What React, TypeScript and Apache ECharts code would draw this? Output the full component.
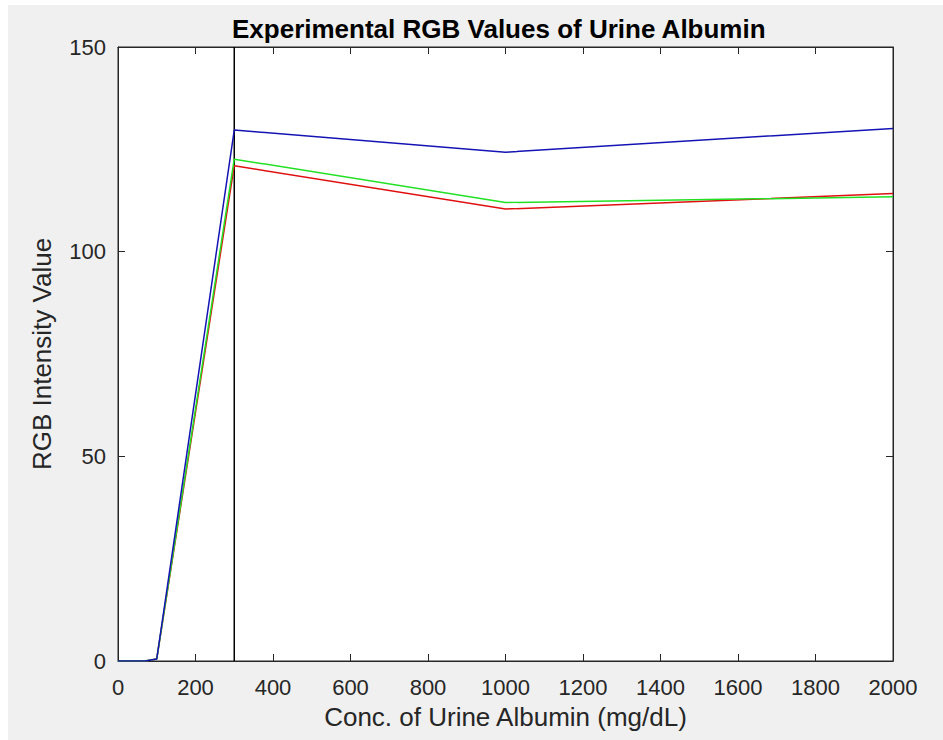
import React, { useEffect, useRef } from "react";
import * as echarts from "echarts";

const conc = [0, 70, 100, 300, 1000, 2000];
const redValues = [0, 0, 0.5, 121.0, 110.4, 114.2];
const greenValues = [0, 0, 0.5, 122.6, 112.0, 113.4];
const blueValues = [0, 0, 0.5, 129.7, 124.3, 130.1];
const markerX = 300;
const yRange = [0, 150];

const title = "Experimental RGB Values of Urine Albumin";
const xLabel = "Conc. of Urine Albumin (mg/dL)";
const yLabel = "RGB Intensity Value";

const AX = "#262626";

export default function App() {
  const ref = useRef<HTMLDivElement>(null);
  useEffect(() => {
    if (!ref.current) return;
    const chart = echarts.init(ref.current, null, { renderer: "svg" });
    const pts = (ys: number[]) => conc.map((x, i) => [x, ys[i]]);
    const tickIn = { show: true, inside: true, length: 7, lineStyle: { color: AX, width: 1 } };
    const labelStyle = {
      fontFamily: "Liberation Sans, Arial",
      fontSize: 22,
      color: AX,
      formatter: (v: number) => String(v),
    };
    const frameLine = { show: true, onZero: false, lineStyle: { color: AX, width: 1 } };
    chart.setOption({
      animation: false,
      backgroundColor: "#f0f0f0",
      title: {
        text: title,
        left: 219,
        top: 6,
        textStyle: {
          fontFamily: "Liberation Sans Narrow, Liberation Sans, Arial",
          fontWeight: "bold",
          fontSize: 26,
          color: "#000",
        },
      },
      grid: {
        left: 110,
        right: 50,
        top: 42,
        bottom: 79,
        show: true,
        backgroundColor: "#ffffff",
        borderColor: AX,
        borderWidth: 1,
      },
      xAxis: [
        {
          type: "value",
          min: 0,
          max: 2000,
          interval: 200,
          position: "bottom",
          name: xLabel,
          nameLocation: "middle",
          nameGap: 43,
          nameMoveOverlap: false,
          nameTextStyle: { fontFamily: "Liberation Sans, Arial", fontSize: 26, color: AX },
          axisLine: frameLine,
          axisTick: tickIn,
          axisLabel: { ...labelStyle, margin: 15 },
          splitLine: { show: false },
        },
        {
          type: "value",
          min: 0,
          max: 2000,
          interval: 200,
          position: "top",
          axisLine: frameLine,
          axisTick: tickIn,
          axisLabel: { show: false },
          splitLine: { show: false },
        },
      ],
      yAxis: [
        {
          type: "value",
          min: yRange[0],
          max: yRange[1],
          interval: 50,
          position: "left",
          name: yLabel,
          nameLocation: "middle",
          nameGap: 63,
          nameMoveOverlap: false,
          nameTextStyle: { fontFamily: "Liberation Sans, Arial", fontSize: 26, color: AX },
          axisLine: frameLine,
          axisTick: tickIn,
          axisLabel: { ...labelStyle, margin: 12 },
          splitLine: { show: false },
        },
        {
          type: "value",
          min: yRange[0],
          max: yRange[1],
          interval: 50,
          position: "right",
          axisLine: frameLine,
          axisTick: tickIn,
          axisLabel: { show: false },
          splitLine: { show: false },
        },
      ],
      series: [
        {
          name: "Marker",
          type: "line",
          data: [
            [markerX, yRange[0]],
            [markerX, yRange[1]],
          ],
          symbol: "none",
          lineStyle: { color: "#000000", width: 1.5 },
        },
        {
          name: "Red",
          type: "line",
          data: pts(redValues),
          symbol: "none",
          lineStyle: { color: "#e01010", width: 1.5 },
        },
        {
          name: "Green",
          type: "line",
          data: pts(greenValues),
          symbol: "none",
          lineStyle: { color: "#22e022", width: 1.5 },
        },
        {
          name: "Blue",
          type: "line",
          data: pts(blueValues),
          symbol: "none",
          lineStyle: { color: "#1414b4", width: 1.5 },
        },
      ],
    });
    return () => chart.dispose();
  }, []);
  return (
    <div
      ref={ref}
      style={{ position: "fixed", left: 8, top: 5, width: 935, height: 735 }}
    />
  );
}
